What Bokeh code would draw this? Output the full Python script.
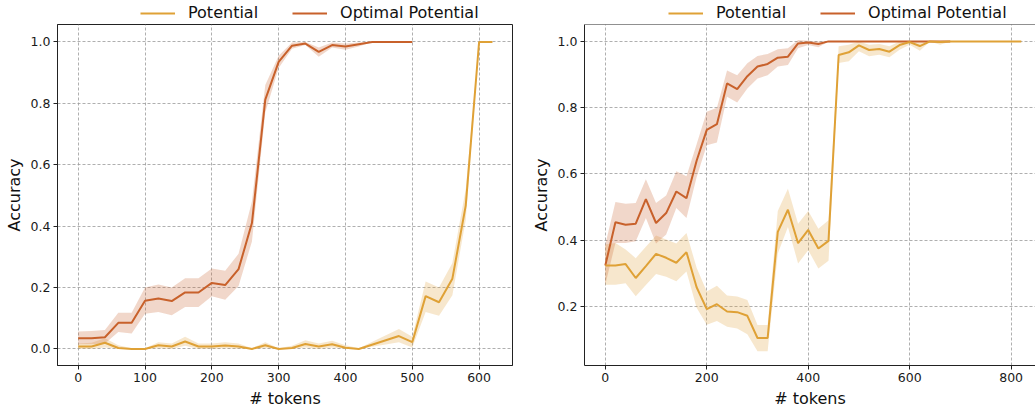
from bokeh.plotting import figure
from bokeh.layouts import row, column
from bokeh.models import Legend, LegendItem, FixedTicker, PrintfTickFormatter, Range1d, Span
from bokeh.embed import file_html
from bokeh.resources import INLINE

# ---------------- data ----------------
# Left panel
left_pot_x = [0, 20, 40, 60, 80, 100, 120, 140, 160, 180, 200, 220, 240, 260, 280, 300,
              320, 340, 360, 380, 400, 420, 480, 500, 520, 540, 560, 580, 600, 620]
left_pot_y = [0.008, 0.008, 0.020, 0.003, 0.0, 0.0, 0.012, 0.008, 0.024, 0.008, 0.008, 0.011,
              0.008, 0.0, 0.012, 0.0, 0.003, 0.016, 0.008, 0.015, 0.004, 0.0, 0.042, 0.022,
              0.172, 0.152, 0.229, 0.467, 1.0, 1.0]
left_pot_lo = [0.0, 0.0, 0.005, 0.0, 0.0, 0.0, 0.002, 0.0, 0.010, 0.0, 0.0, 0.002,
               0.0, 0.0, 0.002, 0.0, 0.0, 0.005, 0.0, 0.005, 0.0, 0.0, 0.022, 0.005,
               0.120, 0.108, 0.175, 0.420, 1.0, 1.0]
left_pot_hi = [0.018, 0.020, 0.035, 0.012, 0.002, 0.002, 0.022, 0.018, 0.040, 0.018, 0.018, 0.022,
               0.018, 0.002, 0.022, 0.002, 0.010, 0.028, 0.018, 0.027, 0.012, 0.002, 0.065, 0.040,
               0.220, 0.200, 0.280, 0.520, 1.0, 1.0]

left_opt_x = [0, 20, 40, 60, 80, 100, 120, 140, 160, 180, 200, 220, 240, 260, 280, 300,
              320, 340, 360, 380, 400, 420, 440, 460, 480, 500]
left_opt_y = [0.035, 0.035, 0.038, 0.085, 0.085, 0.157, 0.164, 0.156, 0.184, 0.184, 0.215, 0.208,
              0.260, 0.410, 0.812, 0.935, 0.988, 0.995, 0.968, 0.990, 0.985, 0.993, 1.0, 1.0, 1.0, 1.0]
left_opt_lo = [0.015, 0.015, 0.018, 0.055, 0.050, 0.115, 0.120, 0.110, 0.137, 0.137, 0.172, 0.160,
               0.205, 0.350, 0.770, 0.915, 0.978, 0.990, 0.952, 0.982, 0.975, 0.985, 1.0, 1.0, 1.0, 1.0]
left_opt_hi = [0.057, 0.058, 0.062, 0.118, 0.118, 0.200, 0.210, 0.200, 0.230, 0.230, 0.262, 0.255,
               0.310, 0.480, 0.860, 0.955, 0.998, 1.000, 0.982, 0.998, 0.995, 0.998, 1.0, 1.0, 1.0, 1.0]

# Right panel
right_pot_x = [0, 20, 40, 60, 80, 100, 120, 140, 160, 180, 200, 220, 240, 260, 280, 300, 320,
               340, 360, 380, 400, 420, 440, 460, 480, 500, 520, 540, 560, 580, 600, 620, 640,
               660, 680, 700, 720, 740, 760, 780, 800, 820]
right_pot_y = [0.324, 0.324, 0.328, 0.286, 0.322, 0.359, 0.347, 0.332, 0.364, 0.258, 0.192, 0.207,
               0.185, 0.183, 0.172, 0.105, 0.105, 0.425, 0.492, 0.391, 0.431, 0.375, 0.398,
               0.959, 0.967, 0.988, 0.974, 0.977, 0.969, 0.989, 0.998, 0.986, 1.0,
               0.998, 1.0, 1.0, 1.0, 1.0, 1.0, 1.0, 1.0, 1.0]
right_pot_lo = [0.266, 0.266, 0.270, 0.231, 0.265, 0.298, 0.290, 0.276, 0.306, 0.196, 0.145, 0.156,
                0.139, 0.134, 0.116, 0.065, 0.065, 0.360, 0.440, 0.330, 0.370, 0.315, 0.338,
                0.935, 0.940, 0.970, 0.955, 0.960, 0.952, 0.975, 0.990, 0.972, 1.0,
                0.990, 1.0, 1.0, 1.0, 1.0, 1.0, 1.0, 1.0, 1.0]
right_pot_hi = [0.387, 0.392, 0.372, 0.346, 0.380, 0.414, 0.402, 0.390, 0.422, 0.317, 0.245, 0.263,
                0.233, 0.230, 0.220, 0.144, 0.144, 0.488, 0.555, 0.450, 0.488, 0.435, 0.460,
                0.985, 0.990, 1.000, 0.990, 0.992, 0.985, 1.000, 1.000, 0.997, 1.0,
                1.0, 1.0, 1.0, 1.0, 1.0, 1.0, 1.0, 1.0, 1.0]

right_opt_x = [0, 20, 40, 60, 80, 100, 120, 140, 160, 180, 200, 220, 240, 260, 280, 300, 320,
               340, 360, 380, 400, 420, 440, 460, 480, 500, 520, 540, 560, 580, 600, 620, 640,
               660, 680]
right_opt_y = [0.324, 0.454, 0.447, 0.450, 0.524, 0.452, 0.482, 0.547, 0.527, 0.640, 0.733, 0.750,
               0.873, 0.856, 0.895, 0.924, 0.932, 0.951, 0.954, 0.994, 0.997, 0.992, 1.0,
               1.0, 1.0, 1.0, 1.0, 1.0, 1.0, 1.0, 1.0, 1.0, 1.0, 1.0, 1.0]
right_opt_lo = [0.266, 0.392, 0.392, 0.397, 0.467, 0.390, 0.417, 0.497, 0.467, 0.590, 0.687, 0.695,
                0.833, 0.816, 0.858, 0.888, 0.898, 0.924, 0.929, 0.979, 0.989, 0.982, 1.0,
                1.0, 1.0, 1.0, 1.0, 1.0, 1.0, 1.0, 1.0, 1.0, 1.0, 1.0, 1.0]
right_opt_hi = [0.387, 0.515, 0.510, 0.512, 0.584, 0.512, 0.535, 0.608, 0.593, 0.690, 0.788, 0.800,
                0.912, 0.898, 0.934, 0.956, 0.962, 0.976, 0.979, 1.004, 1.002, 1.000, 1.0,
                1.0, 1.0, 1.0, 1.0, 1.0, 1.0, 1.0, 1.0, 1.0, 1.0, 1.0, 1.0]

series_names = ["Potential", "Optimal Potential"]
left_x_ticks = [0, 100, 200, 300, 400, 500, 600]
right_x_ticks = [0, 200, 400, 600, 800]
left_y_ticks = [0.0, 0.2, 0.4, 0.6, 0.8, 1.0]
right_y_ticks = [0.2, 0.4, 0.6, 0.8, 1.0]

# ---------------- style ----------------
FONT = "DejaVu Sans"
POT_COLOR = "#dfa136"
OPT_COLOR = "#c8612b"
AX_COLOR = "#222222"
LEG_H = 23
H = 411 - LEG_H
TOP = 1
BOTTOM = 46
NAN = float("nan")


def make_fig(width, xr, yr, xticks, yticks, border_left, border_right, outline=True):
    p = figure(width=width, height=H, x_range=Range1d(*xr), y_range=Range1d(*yr),
               output_backend="svg", toolbar_location=None,
               min_border_left=border_left, min_border_right=border_right,
               min_border_top=TOP, min_border_bottom=BOTTOM)
    p.background_fill_color = "white"
    p.border_fill_color = "white"
    if outline:
        p.outline_line_color = AX_COLOR
        p.outline_line_width = 1
        p.outline_line_alpha = 1
    else:
        p.outline_line_color = None
    p.xaxis.ticker = FixedTicker(ticks=xticks)
    p.yaxis.ticker = FixedTicker(ticks=yticks)
    p.yaxis.formatter = PrintfTickFormatter(format="%.1f")
    for ax in (p.xaxis, p.yaxis):
        ax.axis_line_color = AX_COLOR
        ax.major_tick_line_color = AX_COLOR
        ax.major_tick_out = 4
        ax.major_tick_in = 0
        ax.minor_tick_line_color = None
        ax.major_label_text_font = FONT
        ax.major_label_text_font_size = "12.5px"
        ax.major_label_text_color = "#1a1a1a"
        ax.major_label_standoff = 3
        ax.axis_label_text_font = FONT
        ax.axis_label_text_font_size = "16px"
        ax.axis_label_text_font_style = "normal"
        ax.axis_label_text_color = "#111111"
        ax.axis_label_standoff = 4
    p.xaxis.axis_label = "# tokens"
    p.yaxis.axis_label = "Accuracy"
    p.grid.grid_line_color = "#9a9a9a"
    p.grid.grid_line_dash = "3 2"
    p.grid.grid_line_width = 0.8
    return p


def make_legend_fig(width, border_left, border_right, legend_x):
    lf = figure(width=width, height=LEG_H, x_range=Range1d(0, 1), y_range=Range1d(0, 1),
                output_backend="svg", toolbar_location=None,
                x_axis_location=None, y_axis_location=None,
                min_border_left=border_left, min_border_right=border_right,
                min_border_top=0, min_border_bottom=0)
    lf.outline_line_color = None
    lf.grid.visible = False
    lf.background_fill_color = "white"
    lf.border_fill_color = "white"
    # legend keys only (no visible data)
    k_pot = lf.line(x=[NAN], y=[NAN], line_color=POT_COLOR, line_width=2)
    k_opt = lf.line(x=[NAN], y=[NAN], line_color=OPT_COLOR, line_width=2)
    leg = Legend(items=[LegendItem(label=series_names[0], renderers=[k_pot]),
                        LegendItem(label=series_names[1], renderers=[k_opt])],
                 orientation="horizontal", location=(legend_x, 1),
                 padding=0, margin=0, spacing=34, glyph_width=35, glyph_height=16,
                 label_height=16, label_standoff=13,
                 label_text_font=FONT, label_text_font_size="16px",
                 label_text_color="#111111",
                 border_line_color=None, background_fill_alpha=0)
    lf.add_layout(leg, "center")
    return lf


def draw(p, pot, opt):
    px, py, plo, phi = pot
    ox, oy, olo, ohi = opt
    p.varea(x=px, y1=plo, y2=phi, fill_color=POT_COLOR, fill_alpha=0.25)
    p.varea(x=ox, y1=olo, y2=ohi, fill_color=OPT_COLOR, fill_alpha=0.25)
    p.line(ox, oy, line_color=OPT_COLOR, line_width=2)
    p.line(px, py, line_color=POT_COLOR, line_width=2)


LW, RW = 527, 508

left = make_fig(LW, (-31, 650), (-0.054, 1.057), left_x_ticks, left_y_ticks, 57, 15)
draw(left, (left_pot_x, left_pot_y, left_pot_lo, left_pot_hi),
     (left_opt_x, left_opt_y, left_opt_lo, left_opt_hi))
left_leg = make_legend_fig(LW, 57, 15, 83)

right = make_fig(RW, (-41, 848), (0.022, 1.051), right_x_ticks, right_y_ticks, 57, 0, outline=False)
right.add_layout(Span(location=1.051, dimension="width", line_color=AX_COLOR, line_width=1))
draw(right, (right_pot_x, right_pot_y, right_pot_lo, right_pot_hi),
     (right_opt_x, right_opt_y, right_opt_lo, right_opt_hi))
right_leg = make_legend_fig(RW, 57, 0, 84)

layout = row(column(left_leg, left), column(right_leg, right))
open("out.html", "w").write(file_html(layout, INLINE))
